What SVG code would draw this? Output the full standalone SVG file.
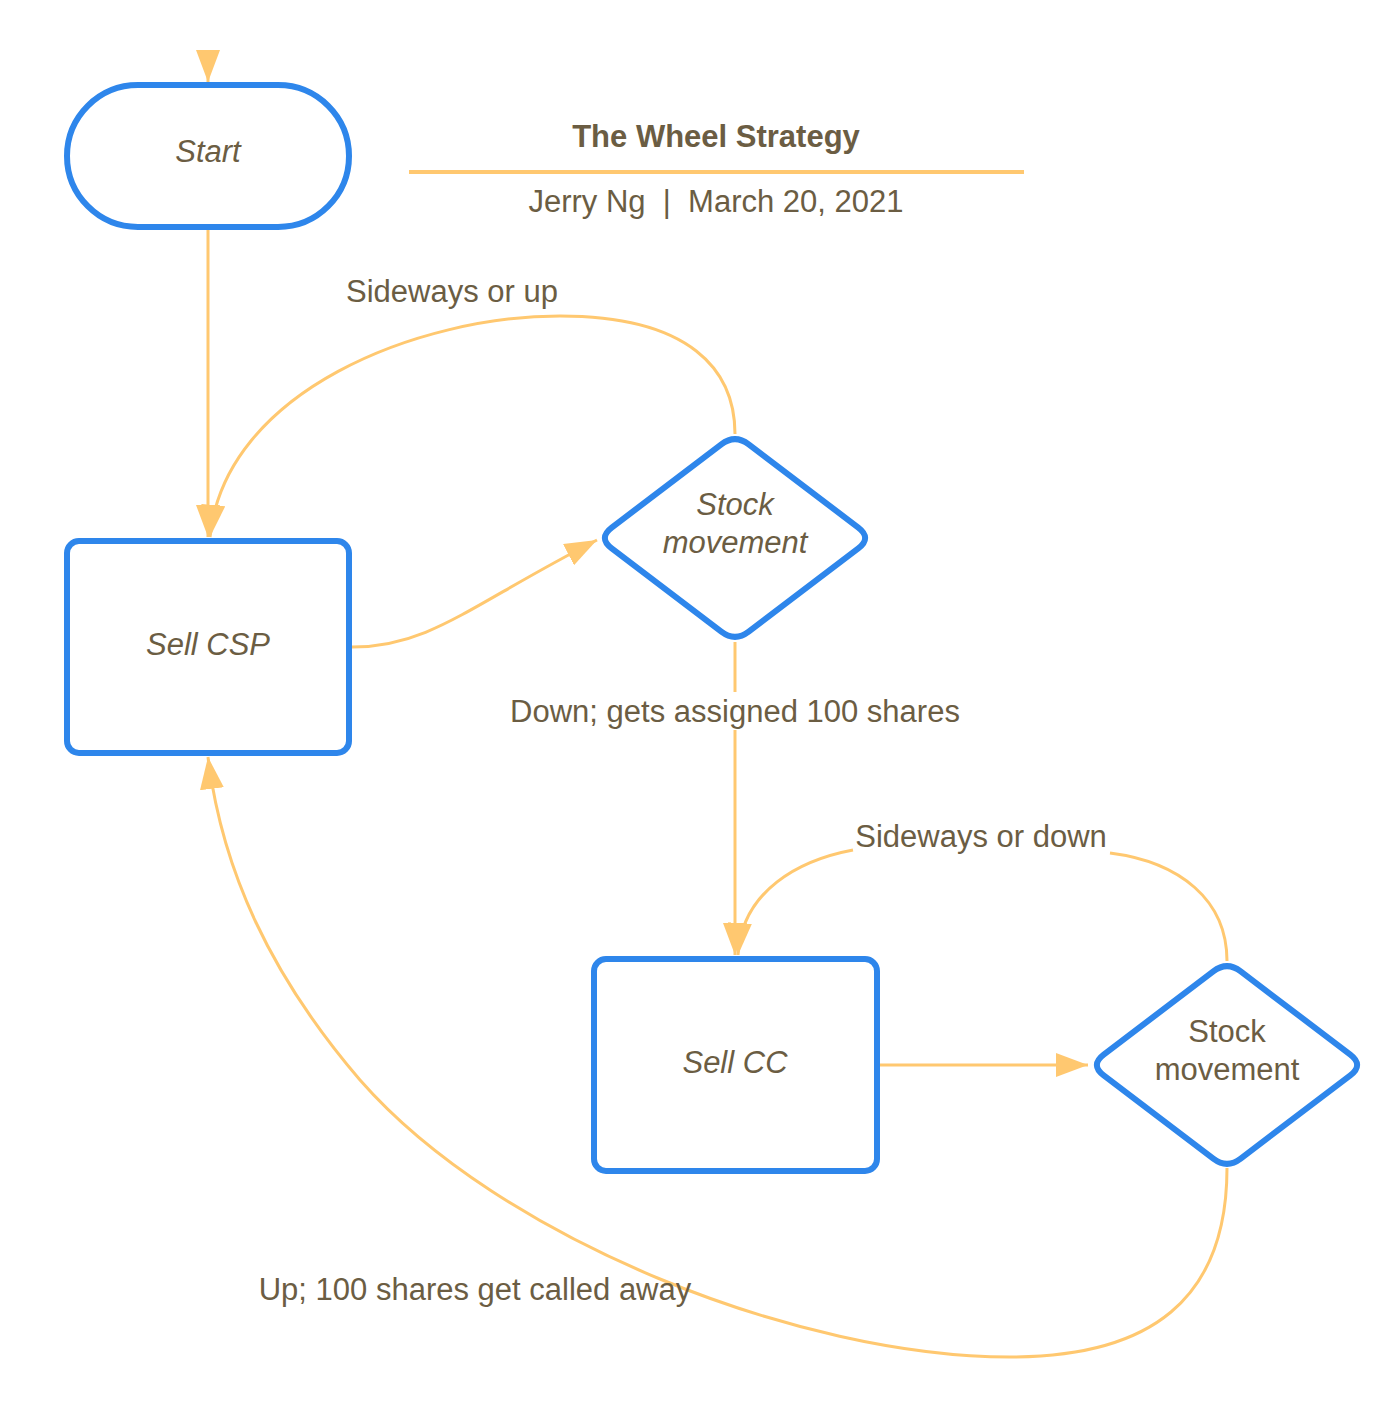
<svg xmlns="http://www.w3.org/2000/svg" width="1400" height="1401" viewBox="0 0 1400 1401">
<style>
.node{fill:#ffffff;stroke:#2e86eb;stroke-width:6;stroke-linejoin:round}
.conn{fill:none;stroke:#ffc870;stroke-width:3}
.t{font-family:"Liberation Sans",Arial,sans-serif;font-size:31px;fill:#6b5d43;text-anchor:middle}
.i{font-style:italic}
</style>
<defs>
<marker id="arr" markerUnits="userSpaceOnUse" markerWidth="32" markerHeight="24" viewBox="0 0 32 24" refX="32" refY="12" orient="auto">
<path d="M0,0 L32,12 L0,24 Z" fill="#ffc870"/>
</marker>
<path id="dia" d="M13.7,-93.6 L123.3,-10.4 Q137,0 123.3,10.4 L13.7,93.6 Q0,104 -13.7,93.6 L-123.3,10.4 Q-137,0 -123.3,-10.4 L-13.7,-93.6 Q0,-104 13.7,-93.6 Z"/>
</defs>
<rect width="1400" height="1401" fill="#ffffff"/>
<g id="title">
<text class="t" x="716" y="147" font-weight="bold">The Wheel Strategy</text>
<line x1="409" y1="172" x2="1024" y2="172" stroke="#ffc870" stroke-width="4"/>
<text class="t" x="716" y="212" xml:space="preserve">Jerry Ng  |  March 20, 2021</text>
</g>
<g id="connectors">
<path class="conn" d="M208,50 L208,82" marker-end="url(#arr)"/>
<path class="conn" d="M208,229 L208,537" marker-end="url(#arr)"/>
<path class="conn" d="M735,434 C735,370 690,316 560,316 C420,316 225,390 210,537" marker-end="url(#arr)"/>
<path class="conn" d="M352,647 C430,647 470,605 597,540" marker-end="url(#arr)"/>
<path class="conn" d="M735,642 L735,692"/>
<path class="conn" d="M735,730 L735,955" marker-end="url(#arr)"/>
<path class="conn" d="M880,1065 L1088,1065" marker-end="url(#arr)"/>
<path class="conn" d="M1227,961 C1227,900 1180,862 1110,853"/>
<path class="conn" d="M853,850 C800,860 742,890 738,955" marker-end="url(#arr)"/>
<path class="conn" d="M1227,1168 C1227,1300 1150,1357 1010,1357 C800,1357 500,1240 360,1080 C270,975 222,870 208,757" marker-end="url(#arr)"/>
<text class="t" x="452" y="302">Sideways or up</text>
<text class="t" x="735" y="722">Down; gets assigned 100 shares</text>
<text class="t" x="981" y="847">Sideways or down</text>
<text class="t" x="475" y="1300">Up; 100 shares get called away</text>
</g>
<g id="start">
<rect class="node" x="67" y="85" width="282" height="142" rx="71" ry="71"/>
<text class="t i" x="208" y="162">Start</text>
</g>
<g id="sellcsp">
<rect class="node" x="67" y="541" width="282" height="212" rx="12" ry="12"/>
<text class="t i" x="208" y="655">Sell CSP</text>
</g>
<g id="stock1">
<use href="#dia" class="node" transform="translate(735,538)"/>
<text class="t i" x="735" y="515">Stock</text>
<text class="t i" x="735" y="553">movement</text>
</g>
<g id="sellcc">
<rect class="node" x="594" y="959" width="283" height="212" rx="12" ry="12"/>
<text class="t i" x="735" y="1073">Sell CC</text>
</g>
<g id="stock2">
<use href="#dia" class="node" transform="translate(1227,1065)"/>
<text class="t" x="1227" y="1042">Stock</text>
<text class="t" x="1227" y="1080">movement</text>
</g>
</svg>
